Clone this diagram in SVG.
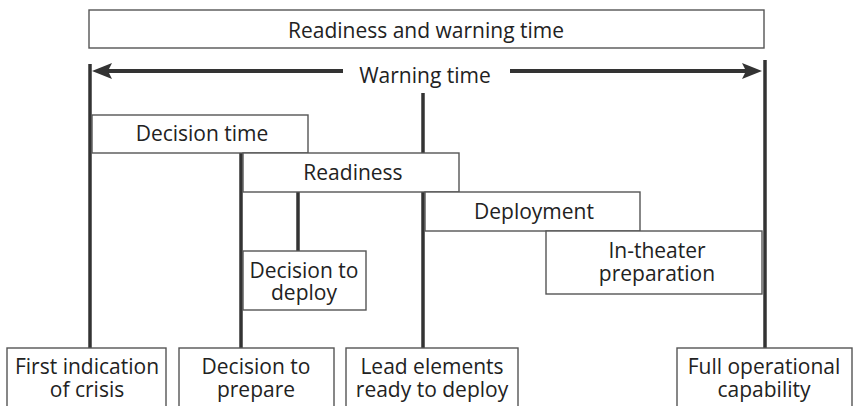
<svg xmlns="http://www.w3.org/2000/svg" width="853" height="406" viewBox="0 0 853 406">
<style>
  .box { fill: #ffffff; stroke: #555555; stroke-width: 1.4; }
  .bar { stroke: #333333; stroke-width: 3.5; fill: none; }
  .arr { stroke: #333333; stroke-width: 4; fill: none; }
  text { font-family: "Open Sans", "Noto Sans", "Liberation Sans", sans-serif; font-size: 21px; fill: #222222; text-anchor: middle; }
</style>
<defs>
  <marker id="head" viewBox="0 0 20 16" refX="12" refY="8" markerWidth="20" markerHeight="16" markerUnits="userSpaceOnUse" orient="auto">
    <path d="M0,0 L20,8 L0,16 L4,8 Z" fill="#333333"/>
  </marker>
</defs>
<rect width="853" height="406" fill="#ffffff"/>

<g id="connectors">
  <line class="bar" x1="90" y1="64" x2="90" y2="348"/>
  <line class="bar" x1="241" y1="153" x2="241" y2="348"/>
  <line class="bar" x1="298" y1="192" x2="298" y2="251"/>
  <line class="bar" x1="423" y1="93" x2="423" y2="348"/>
  <line class="bar" x1="765" y1="60" x2="765" y2="348"/>
  <line class="arr" x1="343" y1="71" x2="100" y2="71" marker-end="url(#head)"/>
  <line class="arr" x1="510" y1="71" x2="754" y2="71" marker-end="url(#head)"/>
</g>

<g id="readiness-warning">
  <rect class="box" x="89" y="10" width="675" height="38"/>
  <text x="426" y="38">Readiness and warning time</text>
</g>

<g id="warning-time">
  <text x="425" y="83">Warning time</text>
</g>

<g id="decision-time">
  <rect class="box" x="92" y="115" width="216" height="38"/>
  <text x="202" y="141">Decision time</text>
</g>

<g id="readiness">
  <rect class="box" x="243" y="153" width="216" height="39"/>
  <text x="353" y="180">Readiness</text>
</g>

<g id="deployment">
  <rect class="box" x="425" y="192" width="215" height="39"/>
  <text x="534" y="219">Deployment</text>
</g>

<g id="in-theater">
  <rect class="box" x="546" y="231" width="216" height="63"/>
  <text x="657" y="258">In-theater</text>
  <text x="657" y="281">preparation</text>
</g>

<g id="decision-to-deploy">
  <rect class="box" x="243" y="251" width="123" height="59"/>
  <text x="304" y="278">Decision to</text>
  <text x="304" y="300">deploy</text>
</g>

<g id="first-indication">
  <rect class="box" x="7" y="348" width="159" height="70"/>
  <text x="87" y="374">First indication</text>
  <text x="87" y="397">of crisis</text>
</g>

<g id="decision-to-prepare">
  <rect class="box" x="179" y="348" width="155" height="70"/>
  <text x="256" y="374">Decision to</text>
  <text x="256" y="397">prepare</text>
</g>

<g id="lead-elements">
  <rect class="box" x="346" y="348" width="172" height="70"/>
  <text x="432" y="374">Lead elements</text>
  <text x="432" y="397">ready to deploy</text>
</g>

<g id="full-capability">
  <rect class="box" x="677" y="348" width="175" height="70"/>
  <text x="764" y="374">Full operational</text>
  <text x="764" y="397">capability</text>
</g>
</svg>
